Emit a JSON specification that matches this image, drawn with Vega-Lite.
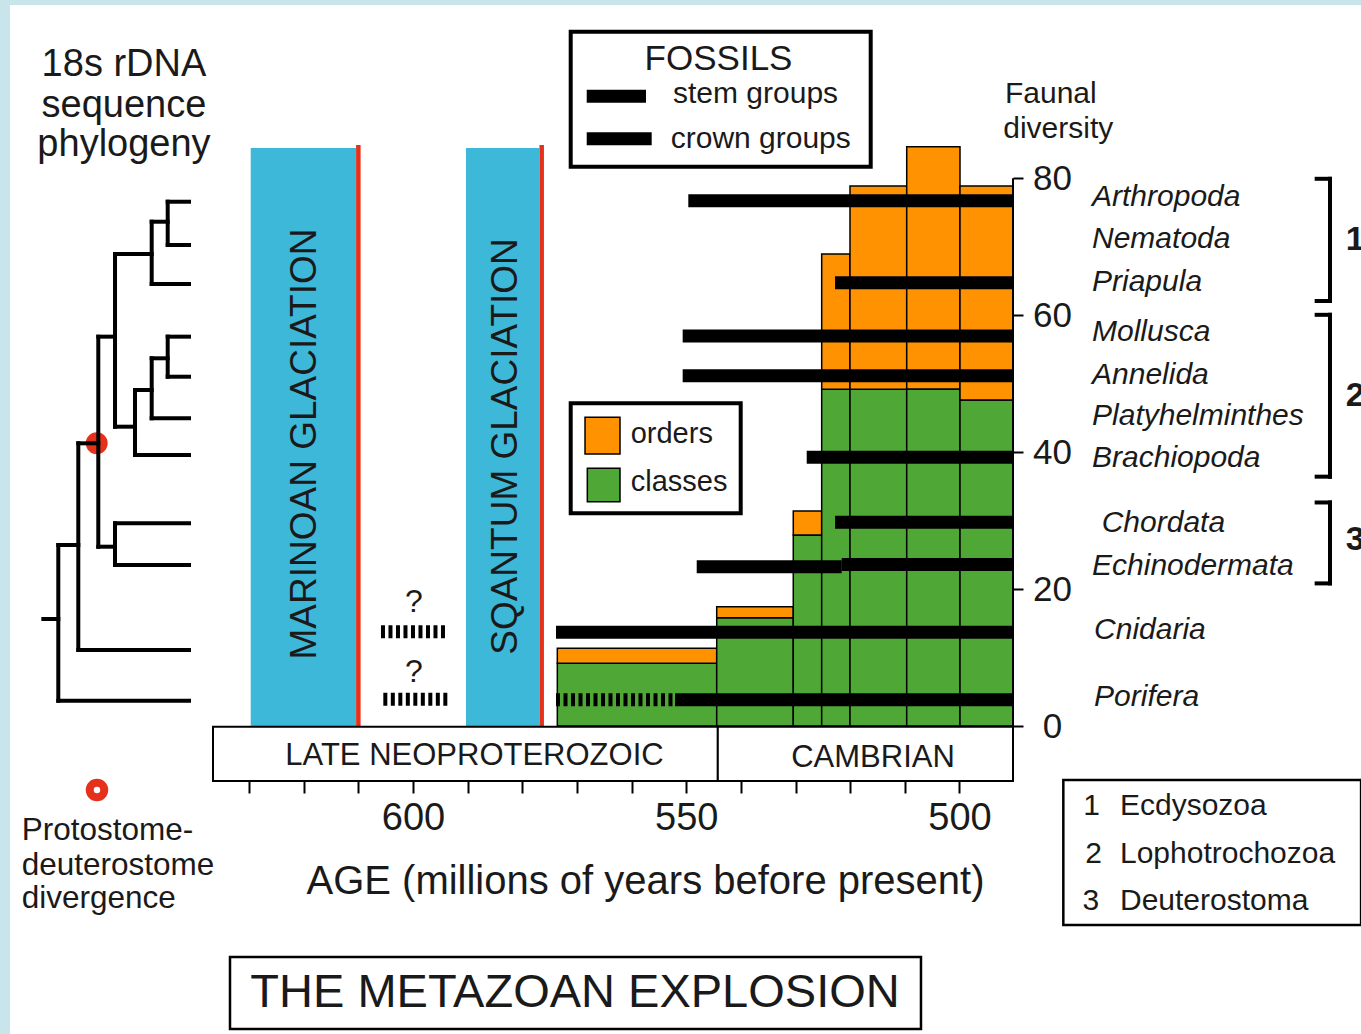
{
  "$schema": "https://vega.github.io/schema/vega-lite/v6.json",
  "width": 800,
  "height": 580,
  "autosize": {"type": "none"},
  "padding": {"left": 213, "top": 146, "right": 348, "bottom": 308},
  "background": "#c7e5eb",
  "config": {"view": {"stroke": null}, "font": "Liberation Sans", "text": {"color": "#1a1a1a", "font": "Liberation Sans"}},
  "layer": [
    {
      "data": {"values": [{"x0": 673.75, "x1": 400, "y0": 105.32, "y1": -60}]},
      "mark": {"type": "rect", "fill": "#ffffff", "clip": false},
      "encoding": {
        "x": {"field": "x0", "type": "quantitative", "scale": {"domain": [636.6, 490.2], "nice": false, "zero": false},
          "axis": {"orient": "bottom", "offset": 55, "values": [630, 620, 610, 600, 590, 580, 570, 560, 550, 540, 530, 520, 510, 500, 490],
            "labelExpr": "datum.value % 50 === 0 ? datum.label : ''", "domain": false, "grid": false, "tickSize": 12, "tickWidth": 2, "tickColor": "#000000",
            "labelFontSize": 38, "labelPadding": 6, "labelColor": "#1a1a1a", "labelFont": "Liberation Sans", "labelOverlap": false, "labelFlush": false,
            "title": "AGE (millions of years before present)", "titleFontSize": 40, "titleFontWeight": "normal", "titleColor": "#1a1a1a", "titleFont": "Liberation Sans",
            "titleX": 432, "titleY": 112, "titleAlign": "center", "titleBaseline": "alphabetic", "zindex": 1}},
        "x2": {"field": "x1"},
        "y": {"field": "y0", "type": "quantitative", "scale": {"domain": [0, 84.72], "nice": false, "zero": false},
          "axis": {"orient": "right", "values": [0, 20, 40, 60, 80], "domain": false, "grid": false, "tickSize": 10, "tickWidth": 2, "tickColor": "#000000",
            "labelFontSize": 35, "labelAlign": "center", "labelBaseline": "middle", "labelPadding": 29, "labelColor": "#1a1a1a", "labelFont": "Liberation Sans",
            "labelOverlap": false, "labelFlush": false, "title": "", "zindex": 1}},
        "y2": {"field": "y1"}
      }
    },
    {
      "data": {"values": [
        {"glaciation": "Marinoan", "from": 629.7, "to": 610.43, "top": 84.43},
        {"glaciation": "Sqantum", "from": 590.3, "to": 576.89, "top": 84.43}
      ]},
      "mark": {"type": "rect", "fill": "#3eb8d8", "clip": false},
      "encoding": {
        "x": {"field": "from", "type": "quantitative", "scale": {"domain": [636.6, 490.2], "nice": false, "zero": false}},
        "x2": {"field": "to"},
        "y": {"field": "top", "type": "quantitative", "scale": {"domain": [0, 84.72], "nice": false, "zero": false}},
        "y2": {"datum": 0}
      }
    },
    {
      "data": {"values": [{"at": 610.0, "top": 84.87}, {"at": 576.45, "top": 84.87}]},
      "mark": {"type": "rule", "color": "#e5301a", "strokeWidth": 4.5, "clip": false},
      "encoding": {
        "x": {"field": "at", "type": "quantitative", "scale": {"domain": [636.6, 490.2], "nice": false, "zero": false}},
        "y": {"field": "top", "type": "quantitative", "scale": {"domain": [0, 84.72], "nice": false, "zero": false}},
        "y2": {"datum": 0}
      }
    },
    {
      "data": {"values": [
        {"start": 573.59, "end": 544.42, "rank": "classes", "count": 9.16},
        {"start": 573.59, "end": 544.42, "rank": "orders", "count": 2.19},
        {"start": 544.42, "end": 530.41, "rank": "classes", "count": 15.82},
        {"start": 544.42, "end": 530.41, "rank": "orders", "count": 1.61},
        {"start": 530.41, "end": 525.21, "rank": "classes", "count": 27.9},
        {"start": 530.41, "end": 525.21, "rank": "orders", "count": 3.51},
        {"start": 525.21, "end": 520.03, "rank": "classes", "count": 49.18},
        {"start": 525.21, "end": 520.03, "rank": "orders", "count": 19.77},
        {"start": 520.03, "end": 509.65, "rank": "classes", "count": 49.18},
        {"start": 520.03, "end": 509.65, "rank": "orders", "count": 29.7},
        {"start": 509.65, "end": 499.9, "rank": "classes", "count": 49.23},
        {"start": 509.65, "end": 499.9, "rank": "orders", "count": 35.39},
        {"start": 499.9, "end": 490.2, "rank": "classes", "count": 47.62},
        {"start": 499.9, "end": 490.2, "rank": "orders", "count": 31.26}
      ]},
      "transform": [{"stack": "count", "groupby": ["start"], "sort": [{"field": "rank", "order": "ascending"}], "as": ["lo", "hi"]}],
      "mark": {"type": "rect", "stroke": "#000000", "strokeWidth": 1.5, "clip": false},
      "encoding": {
        "x": {"field": "start", "type": "quantitative", "scale": {"domain": [636.6, 490.2], "nice": false, "zero": false}},
        "x2": {"field": "end"},
        "y": {"field": "lo", "type": "quantitative", "scale": {"domain": [0, 84.72], "nice": false, "zero": false}},
        "y2": {"field": "hi"},
        "color": {"field": "rank", "type": "nominal", "scale": {"domain": ["orders", "classes"], "range": ["#ff9200", "#4fa836"]}, "legend": null}
      }
    },
    {
      "data": {"values": [
        {"taxon": "Arthropoda", "group": "crown", "from": 549.62, "to": 490.2, "level": 76.73},
        {"taxon": "Priapula", "group": "crown", "from": 522.77, "to": 490.2, "level": 64.75},
        {"taxon": "Mollusca", "group": "crown", "from": 550.65, "to": 490.2, "level": 56.97},
        {"taxon": "Annelida", "group": "crown", "from": 550.65, "to": 490.2, "level": 51.17},
        {"taxon": "Brachiopoda", "group": "crown", "from": 527.95, "to": 490.2, "level": 39.25},
        {"taxon": "Chordata", "group": "crown", "from": 522.77, "to": 490.2, "level": 29.75},
        {"taxon": "Echinodermata", "group": "stem", "from": 548.08, "to": 521.55, "level": 23.27},
        {"taxon": "Echinodermata", "group": "crown", "from": 521.55, "to": 490.2, "level": 23.59},
        {"taxon": "Cnidaria", "group": "crown", "from": 573.83, "to": 490.2, "level": 13.69},
        {"taxon": "Porifera", "group": "crown", "from": 552.05, "to": 490.2, "level": 3.84}
      ]},
      "mark": {"type": "rule", "color": "#000000", "strokeWidth": 13, "strokeCap": "butt", "clip": false},
      "encoding": {
        "x": {"field": "from", "type": "quantitative", "scale": {"domain": [636.6, 490.2], "nice": false, "zero": false}},
        "x2": {"field": "to"},
        "y": {"field": "level", "type": "quantitative", "scale": {"domain": [0, 84.72], "nice": false, "zero": false}}
      }
    },
    {
      "data": {"values": [
        {"taxon": "Cnidaria", "from": 605.86, "to": 593.96, "level": 13.77},
        {"taxon": "Porifera", "from": 605.43, "to": 593.54, "level": 3.9},
        {"taxon": "Porifera", "from": 573.83, "to": 552.05, "level": 3.84}
      ]},
      "mark": {"type": "rule", "color": "#000000", "strokeWidth": 13, "strokeCap": "butt", "strokeDash": [4, 3.5], "clip": false},
      "encoding": {
        "x": {"field": "from", "type": "quantitative", "scale": {"domain": [636.6, 490.2], "nice": false, "zero": false}},
        "x2": {"field": "to"},
        "y": {"field": "level", "type": "quantitative", "scale": {"domain": [0, 84.72], "nice": false, "zero": false}}
      }
    },
    {
      "data": {"values": [
        {"era": "LATE NEOPROTEROZOIC", "from": 636.6, "to": 544.22},
        {"era": "CAMBRIAN", "from": 544.22, "to": 490.2}
      ]},
      "mark": {"type": "rect", "fill": "#ffffff", "stroke": "#000000", "strokeWidth": 2, "clip": false},
      "encoding": {
        "x": {"field": "from", "type": "quantitative", "scale": {"domain": [636.6, 490.2], "nice": false, "zero": false}},
        "x2": {"field": "to"},
        "y": {"datum": -0.1, "type": "quantitative", "scale": {"domain": [0, 84.72], "nice": false, "zero": false}},
        "y2": {"datum": -8.03}
      }
    },
    {
      "data": {"values": [
        {"box": "fossils", "x0": 571.14, "x1": 516.24, "y0": 101.42, "y1": 81.7},
        {"box": "ranks", "x0": 571.14, "x1": 540.03, "y0": 47.14, "y1": 31.07}
      ]},
      "mark": {"type": "rect", "fill": "#ffffff", "stroke": "#000000", "strokeWidth": 4, "clip": false},
      "encoding": {
        "x": {"field": "x0", "type": "quantitative", "scale": {"domain": [636.6, 490.2], "nice": false, "zero": false}},
        "x2": {"field": "x1"},
        "y": {"field": "y0", "type": "quantitative", "scale": {"domain": [0, 84.72], "nice": false, "zero": false}},
        "y2": {"field": "y1"}
      }
    },
    {
      "data": {"values": [
        {"box": "clades", "x0": 480.99, "x1": 426.5, "y0": -7.89, "y1": -29.07},
        {"box": "title", "x0": 633.49, "x1": 507.04, "y0": -33.74, "y1": -44.26}
      ]},
      "mark": {"type": "rect", "fill": "#ffffff", "stroke": "#000000", "strokeWidth": 2.5, "clip": false},
      "encoding": {
        "x": {"field": "x0", "type": "quantitative", "scale": {"domain": [636.6, 490.2], "nice": false, "zero": false}},
        "x2": {"field": "x1"},
        "y": {"field": "y0", "type": "quantitative", "scale": {"domain": [0, 84.72], "nice": false, "zero": false}},
        "y2": {"field": "y1"}
      }
    },
    {
      "data": {"values": [
        {"rank": "orders", "x0": 568.52, "x1": 562.12, "y0": 45.09, "y1": 39.73},
        {"rank": "classes", "x0": 568.1, "x1": 562.12, "y0": 37.64, "y1": 32.76}
      ]},
      "mark": {"type": "rect", "stroke": "#000000", "strokeWidth": 1.5, "clip": false},
      "encoding": {
        "x": {"field": "x0", "type": "quantitative", "scale": {"domain": [636.6, 490.2], "nice": false, "zero": false}},
        "x2": {"field": "x1"},
        "y": {"field": "y0", "type": "quantitative", "scale": {"domain": [0, 84.72], "nice": false, "zero": false}},
        "y2": {"field": "y1"},
        "color": {"field": "rank", "type": "nominal", "scale": {"domain": ["orders", "classes"], "range": ["#ff9200", "#4fa836"]}, "legend": null}
      }
    },
    {
      "data": {"values": [
        {"group": "stem", "x0": 568.21, "x1": 557.36, "y": 91.98},
        {"group": "crown", "x0": 568.21, "x1": 556.32, "y": 85.77}
      ]},
      "mark": {"type": "rule", "color": "#000000", "strokeWidth": 13, "strokeCap": "butt", "clip": false},
      "encoding": {
        "x": {"field": "x0", "type": "quantitative", "scale": {"domain": [636.6, 490.2], "nice": false, "zero": false}},
        "x2": {"field": "x1"},
        "y": {"field": "y", "type": "quantitative", "scale": {"domain": [0, 84.72], "nice": false, "zero": false}}
      }
    },
    {
      "data": {"values": [{"node": "protostome-deuterostome", "x": 657.88, "y": 41.29}]},
      "mark": {"type": "point", "shape": "circle", "filled": true, "color": "#e5301a", "size": 480, "opacity": 1, "clip": false},
      "encoding": {
        "x": {"field": "x", "type": "quantitative", "scale": {"domain": [636.6, 490.2], "nice": false, "zero": false}},
        "y": {"field": "y", "type": "quantitative", "scale": {"domain": [0, 84.72], "nice": false, "zero": false}}
      }
    },
    {
      "data": {"values": [
        {"x0": 644.89, "y0": 76.58, "x1": 640.99, "y1": 76.58},
        {"x0": 644.89, "y0": 70.26, "x1": 640.99, "y1": 70.26},
        {"x0": 647.82, "y0": 64.56, "x1": 640.99, "y1": 64.56},
        {"x0": 644.89, "y0": 56.87, "x1": 640.99, "y1": 56.87},
        {"x0": 644.89, "y0": 51.02, "x1": 640.99, "y1": 51.02},
        {"x0": 647.82, "y0": 44.95, "x1": 640.99, "y1": 44.95},
        {"x0": 650.87, "y0": 39.59, "x1": 640.99, "y1": 39.59},
        {"x0": 654.53, "y0": 29.61, "x1": 640.99, "y1": 29.61},
        {"x0": 654.53, "y0": 23.52, "x1": 640.99, "y1": 23.52},
        {"x0": 661.25, "y0": 11.1, "x1": 640.99, "y1": 11.1},
        {"x0": 664.91, "y0": 3.7, "x1": 640.99, "y1": 3.7},
        {"x0": 644.89, "y0": 76.58, "x1": 644.89, "y1": 70.26},
        {"x0": 647.82, "y0": 73.66, "x1": 644.89, "y1": 73.66},
        {"x0": 647.82, "y0": 73.66, "x1": 647.82, "y1": 64.56},
        {"x0": 654.53, "y0": 68.95, "x1": 647.82, "y1": 68.95},
        {"x0": 654.53, "y0": 68.95, "x1": 654.53, "y1": 43.72},
        {"x0": 654.53, "y0": 43.72, "x1": 650.87, "y1": 43.72},
        {"x0": 650.87, "y0": 49.08, "x1": 650.87, "y1": 39.59},
        {"x0": 650.87, "y0": 49.08, "x1": 647.82, "y1": 49.08},
        {"x0": 647.82, "y0": 53.71, "x1": 647.82, "y1": 44.95},
        {"x0": 647.82, "y0": 53.71, "x1": 644.89, "y1": 53.71},
        {"x0": 644.89, "y0": 56.87, "x1": 644.89, "y1": 51.02},
        {"x0": 657.59, "y0": 56.87, "x1": 654.53, "y1": 56.87},
        {"x0": 657.59, "y0": 56.87, "x1": 657.59, "y1": 26.19},
        {"x0": 657.59, "y0": 26.19, "x1": 654.53, "y1": 26.19},
        {"x0": 654.53, "y0": 29.61, "x1": 654.53, "y1": 23.52},
        {"x0": 661.25, "y0": 41.29, "x1": 657.59, "y1": 41.29},
        {"x0": 661.25, "y0": 41.29, "x1": 661.25, "y1": 11.1},
        {"x0": 664.91, "y0": 26.44, "x1": 661.25, "y1": 26.44},
        {"x0": 664.91, "y0": 26.44, "x1": 664.91, "y1": 3.7},
        {"x0": 667.65, "y0": 15.63, "x1": 664.91, "y1": 15.63}
      ]},
      "mark": {"type": "rule", "color": "#000000", "strokeWidth": 4, "strokeCap": "square", "clip": false},
      "encoding": {
        "x": {"field": "x0", "type": "quantitative", "scale": {"domain": [636.6, 490.2], "nice": false, "zero": false}},
        "x2": {"field": "x1"},
        "y": {"field": "y0", "type": "quantitative", "scale": {"domain": [0, 84.72], "nice": false, "zero": false}},
        "y2": {"field": "y1"}
      }
    },
    {
      "data": {"values": [{"marker": "divergence", "x": 657.83, "y": -9.35}]},
      "mark": {"type": "point", "shape": "circle", "filled": false, "fill": "#ffffff", "stroke": "#e5301a", "strokeWidth": 8, "size": 210, "opacity": 1, "clip": false},
      "encoding": {
        "x": {"field": "x", "type": "quantitative", "scale": {"domain": [636.6, 490.2], "nice": false, "zero": false}},
        "y": {"field": "y", "type": "quantitative", "scale": {"domain": [0, 84.72], "nice": false, "zero": false}}
      }
    },
    {
      "data": {"values": [{"x": 490.2, "y0": 0, "y1": 80}]},
      "mark": {"type": "rule", "color": "#000000", "strokeWidth": 2, "clip": false},
      "encoding": {
        "x": {"field": "x", "type": "quantitative", "scale": {"domain": [636.6, 490.2], "nice": false, "zero": false}},
        "y": {"field": "y0", "type": "quantitative", "scale": {"domain": [0, 84.72], "nice": false, "zero": false}},
        "y2": {"field": "y1"}
      }
    },
    {
      "data": {"values": [
        {"x0": 432.19, "y0": 79.93, "x1": 432.19, "y1": 62.08},
        {"x0": 434.63, "y0": 79.93, "x1": 432.19, "y1": 79.93},
        {"x0": 434.63, "y0": 62.08, "x1": 432.19, "y1": 62.08},
        {"x0": 432.19, "y0": 60.06, "x1": 432.19, "y1": 36.42},
        {"x0": 434.63, "y0": 60.06, "x1": 432.19, "y1": 60.06},
        {"x0": 434.63, "y0": 36.42, "x1": 432.19, "y1": 36.42},
        {"x0": 432.19, "y0": 32.65, "x1": 432.19, "y1": 20.83},
        {"x0": 434.63, "y0": 32.65, "x1": 432.19, "y1": 32.65},
        {"x0": 434.63, "y0": 20.83, "x1": 432.19, "y1": 20.83}
      ]},
      "mark": {"type": "rule", "color": "#000000", "strokeWidth": 4, "strokeCap": "square", "clip": false},
      "encoding": {
        "x": {"field": "x0", "type": "quantitative", "scale": {"domain": [636.6, 490.2], "nice": false, "zero": false}},
        "x2": {"field": "x1"},
        "y": {"field": "y0", "type": "quantitative", "scale": {"domain": [0, 84.72], "nice": false, "zero": false}},
        "y2": {"field": "y1"}
      }
    },
    {
      "data": {"values": [
        {"label": "18s rDNA", "x": 652.89, "y": 94.95},
        {"label": "sequence", "x": 652.89, "y": 89.0},
        {"label": "phylogeny", "x": 652.89, "y": 83.26}
      ]},
      "mark": {"type": "text", "fontSize": 38, "align": "center", "baseline": "alphabetic", "clip": false},
      "encoding": {
        "x": {"field": "x", "type": "quantitative", "scale": {"domain": [636.6, 490.2], "nice": false, "zero": false}},
        "y": {"field": "y", "type": "quantitative", "scale": {"domain": [0, 84.72], "nice": false, "zero": false}},
        "text": {"field": "label"}
      }
    },
    {
      "data": {"values": [{"label": "FOSSILS", "x": 544.09, "y": 95.82}]},
      "mark": {"type": "text", "fontSize": 35, "align": "center", "baseline": "alphabetic", "clip": false},
      "encoding": {
        "x": {"field": "x", "type": "quantitative", "scale": {"domain": [636.6, 490.2], "nice": false, "zero": false}},
        "y": {"field": "y", "type": "quantitative", "scale": {"domain": [0, 84.72], "nice": false, "zero": false}},
        "text": {"field": "label"}
      }
    },
    {
      "data": {"values": [
        {"label": "stem groups", "x": 552.42, "y": 90.96},
        {"label": "crown groups", "x": 552.84, "y": 84.38},
        {"label": "Faunal", "x": 491.67, "y": 91.0},
        {"label": "diversity", "x": 491.98, "y": 85.82}
      ]},
      "mark": {"type": "text", "fontSize": 30, "align": "left", "baseline": "alphabetic", "clip": false},
      "encoding": {
        "x": {"field": "x", "type": "quantitative", "scale": {"domain": [636.6, 490.2], "nice": false, "zero": false}},
        "y": {"field": "y", "type": "quantitative", "scale": {"domain": [0, 84.72], "nice": false, "zero": false}},
        "text": {"field": "label"}
      }
    },
    {
      "data": {"values": [
        {"label": "orders", "x": 560.16, "y": 41.29},
        {"label": "classes", "x": 560.16, "y": 34.37}
      ]},
      "mark": {"type": "text", "fontSize": 29, "align": "left", "baseline": "alphabetic", "clip": false},
      "encoding": {
        "x": {"field": "x", "type": "quantitative", "scale": {"domain": [636.6, 490.2], "nice": false, "zero": false}},
        "y": {"field": "y", "type": "quantitative", "scale": {"domain": [0, 84.72], "nice": false, "zero": false}},
        "text": {"field": "label"}
      }
    },
    {
      "data": {"values": [
        {"label": "Arthropoda", "x": 475.74, "y": 77.27},
        {"label": "Nematoda", "x": 475.74, "y": 71.14},
        {"label": "Priapula", "x": 475.74, "y": 64.86},
        {"label": "Mollusca", "x": 475.74, "y": 57.55},
        {"label": "Annelida", "x": 475.74, "y": 51.27},
        {"label": "Platyhelminthes", "x": 475.74, "y": 45.22},
        {"label": "Brachiopoda", "x": 475.74, "y": 39.19},
        {"label": "Chordata", "x": 473.97, "y": 29.65},
        {"label": "Echinodermata", "x": 475.74, "y": 23.37},
        {"label": "Cnidaria", "x": 475.37, "y": 14.02},
        {"label": "Porifera", "x": 475.37, "y": 4.24}
      ]},
      "mark": {"type": "text", "fontSize": 30, "fontStyle": "italic", "align": "left", "baseline": "middle", "clip": false},
      "encoding": {
        "x": {"field": "x", "type": "quantitative", "scale": {"domain": [636.6, 490.2], "nice": false, "zero": false}},
        "y": {"field": "y", "type": "quantitative", "scale": {"domain": [0, 84.72], "nice": false, "zero": false}},
        "text": {"field": "label"}
      }
    },
    {
      "data": {"values": [
        {"label": "1", "x": 429.3, "y": 71.0},
        {"label": "2", "x": 429.3, "y": 48.2},
        {"label": "3", "x": 429.3, "y": 27.1}
      ]},
      "mark": {"type": "text", "fontSize": 34, "fontWeight": "bold", "align": "left", "baseline": "middle", "clip": false},
      "encoding": {
        "x": {"field": "x", "type": "quantitative", "scale": {"domain": [636.6, 490.2], "nice": false, "zero": false}},
        "y": {"field": "y", "type": "quantitative", "scale": {"domain": [0, 84.72], "nice": false, "zero": false}},
        "text": {"field": "label"}
      }
    },
    {
      "data": {"values": [
        {"label": "?", "x": 599.82, "y": 18.16},
        {"label": "?", "x": 599.82, "y": 7.93}
      ]},
      "mark": {"type": "text", "fontSize": 32, "align": "center", "baseline": "middle", "clip": false},
      "encoding": {
        "x": {"field": "x", "type": "quantitative", "scale": {"domain": [636.6, 490.2], "nice": false, "zero": false}},
        "y": {"field": "y", "type": "quantitative", "scale": {"domain": [0, 84.72], "nice": false, "zero": false}},
        "text": {"field": "label"}
      }
    },
    {
      "data": {"values": [
        {"label": "MARINOAN GLACIATION", "x": 619.76, "y": 41.19},
        {"label": "SQANTUM GLACIATION", "x": 582.98, "y": 40.83}
      ]},
      "mark": {"type": "text", "fontSize": 37, "angle": 270, "align": "center", "baseline": "middle", "clip": false},
      "encoding": {
        "x": {"field": "x", "type": "quantitative", "scale": {"domain": [636.6, 490.2], "nice": false, "zero": false}},
        "y": {"field": "y", "type": "quantitative", "scale": {"domain": [0, 84.72], "nice": false, "zero": false}},
        "text": {"field": "label"}
      }
    },
    {
      "data": {"values": [
        {"label": "LATE  NEOPROTEROZOIC", "x": 588.75, "y": -5.7},
        {"label": "CAMBRIAN", "x": 515.82, "y": -5.94}
      ]},
      "mark": {"type": "text", "fontSize": 31, "align": "center", "baseline": "alphabetic", "clip": false},
      "encoding": {
        "x": {"field": "x", "type": "quantitative", "scale": {"domain": [636.6, 490.2], "nice": false, "zero": false}},
        "y": {"field": "y", "type": "quantitative", "scale": {"domain": [0, 84.72], "nice": false, "zero": false}},
        "text": {"field": "label"}
      }
    },
    {
      "data": {"values": [
        {"label": "1", "x": 477.34, "y": -13.0},
        {"label": "Ecdysozoa", "x": 470.62, "y": -13.0},
        {"label": "2", "x": 477.0, "y": -20.01},
        {"label": "Lophotrochozoa", "x": 470.62, "y": -20.01},
        {"label": "3", "x": 477.5, "y": -26.88},
        {"label": "Deuterostoma", "x": 470.62, "y": -26.88}
      ]},
      "mark": {"type": "text", "fontSize": 30, "align": "left", "baseline": "alphabetic", "clip": false},
      "encoding": {
        "x": {"field": "x", "type": "quantitative", "scale": {"domain": [636.6, 490.2], "nice": false, "zero": false}},
        "y": {"field": "y", "type": "quantitative", "scale": {"domain": [0, 84.72], "nice": false, "zero": false}},
        "text": {"field": "label"}
      }
    },
    {
      "data": {"values": [
        {"label": "Protostome-", "x": 671.61, "y": -16.65},
        {"label": "deuterostome", "x": 671.61, "y": -21.76},
        {"label": "divergence", "x": 671.61, "y": -26.58}
      ]},
      "mark": {"type": "text", "fontSize": 31.5, "align": "left", "baseline": "alphabetic", "clip": false},
      "encoding": {
        "x": {"field": "x", "type": "quantitative", "scale": {"domain": [636.6, 490.2], "nice": false, "zero": false}},
        "y": {"field": "y", "type": "quantitative", "scale": {"domain": [0, 84.72], "nice": false, "zero": false}},
        "text": {"field": "label"}
      }
    },
    {
      "data": {"values": [{"label": "THE METAZOAN EXPLOSION", "x": 570.35, "y": -41.05}]},
      "mark": {"type": "text", "fontSize": 47, "align": "center", "baseline": "alphabetic", "clip": false},
      "encoding": {
        "x": {"field": "x", "type": "quantitative", "scale": {"domain": [636.6, 490.2], "nice": false, "zero": false}},
        "y": {"field": "y", "type": "quantitative", "scale": {"domain": [0, 84.72], "nice": false, "zero": false}},
        "text": {"field": "label"}
      }
    }
  ]
}
